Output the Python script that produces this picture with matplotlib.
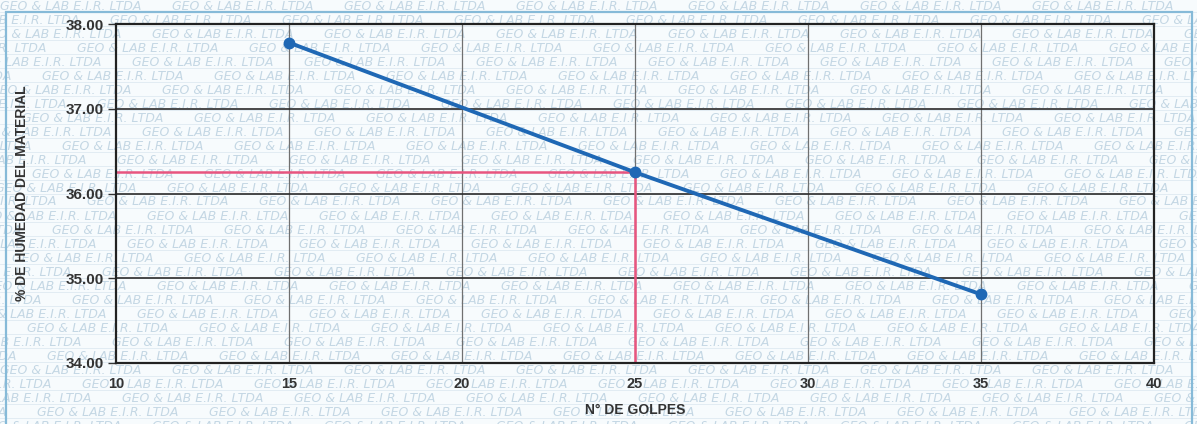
import matplotlib
matplotlib.use("Agg")
import matplotlib.pyplot as plt
from matplotlib.patches import Rectangle
from matplotlib.lines import Line2D

# Ensayo de límite líquido: número de golpes vs. contenido de humedad
golpes = [15, 25, 35]
humedad = [37.78, 36.25, 34.81]
golpes_ref = 25
humedad_ref = humedad[golpes.index(golpes_ref)]

x_ticks = [10, 15, 20, 25, 30, 35, 40]
y_ticks = [34.0, 35.0, 36.0, 37.0, 38.0]
x_label = "N° DE GOLPES"
y_label = "% DE HUMEDAD DEL MATERIAL"
marca = "GEO & LAB E.I.R. LTDA"

W, H, DPI = 1197, 424, 100
fig = plt.figure(figsize=(W / DPI, H / DPI), dpi=DPI)
fig.patch.set_facecolor("#f7fbfd")

# Marca de agua en filas sobre toda la hoja
row_step = 14.0
period_px = 172.0
offsets = [0, 62, 20, 95, 40, 130, 10, 75, 150, 30, 110, 55, 140, 5, 85,
           25, 120, 45, 160, 70, 15, 100, 35, 145, 60, 125, 0, 90, 50, 135, 20]
row = 0
y = 6.0
while y < H + row_step:
    off = offsets[row % len(offsets)]
    x = -off
    while x < W:
        fig.text(x / W, 1 - y / H, marca, fontsize=9.0, style="italic",
                 color="#c4d7e4", ha="left", va="center", zorder=-2)
        x += period_px
    fig.add_artist(Line2D([0, 1], [1 - (y + 6) / H] * 2, color="#dfeaf2",
                          lw=0.6, zorder=-2))
    y += row_step
    row += 1

# Marco exterior
fig.add_artist(Rectangle((6 / W, -0.02), (1192 - 6) / W, 1.02 - 12 / H,
                         fill=False, edgecolor="#86bad8", lw=1.6, zorder=-1))

ax = fig.add_axes([116 / W, 1 - 363 / H, (1154 - 116) / W, (363 - 24) / H])
ax.set_zorder(1)
ax.patch.set_alpha(0.0)
ax.set_xlim(10, 40)
ax.set_ylim(34, 38)

for v in x_ticks[1:-1]:
    ax.axvline(v, color="#707070", lw=0.9, zorder=1)
for v in y_ticks[1:-1]:
    ax.axhline(v, color="#2a2a2a", lw=1.2, zorder=1)

# Líneas de lectura a 25 golpes
ax.plot([golpes_ref, golpes_ref], [34, humedad_ref], color="#e8557f", lw=1.8, zorder=2)
ax.plot([10, golpes_ref], [humedad_ref, humedad_ref], color="#e8557f", lw=1.8, zorder=2)

ax.plot(golpes, humedad, color="#1f68b5", lw=2.8, marker="o", markersize=7.5,
        markerfacecolor="#1f68b5", markeredgecolor="#1f68b5", zorder=3)

for s in ax.spines.values():
    s.set_color("#222222")
    s.set_linewidth(1.6)

ax.set_xticks(x_ticks)
ax.set_yticks(y_ticks)
ax.set_xticklabels([str(v) for v in x_ticks])
ax.set_yticklabels([f"{v:.2f}" for v in y_ticks])
ax.tick_params(axis="x", length=0, pad=10, labelsize=10.5, labelcolor="#333333")
ax.tick_params(axis="y", length=6, width=1.0, color="#333333", pad=3,
               labelsize=11, labelcolor="#333333")
for lab in ax.get_xticklabels() + ax.get_yticklabels():
    lab.set_fontweight("bold")
    lab.set_family("Liberation Sans")

ax.set_xlabel(x_label, fontsize=10, fontweight="bold", family="Liberation Sans",
              color="#333333")
ax.set_ylabel(y_label, fontsize=10, fontweight="bold", family="Liberation Sans",
              color="#333333")
ax.xaxis.set_label_coords(0.5, -(410 - 363) / (363 - 24), transform=ax.transAxes)
ax.yaxis.set_label_coords((22 - 116) / (1154 - 116), 0.5, transform=ax.transAxes)
ax.xaxis.label.set_va("center")
ax.yaxis.label.set_va("center")

fig.savefig("out.png", dpi=DPI, facecolor=fig.get_facecolor())
